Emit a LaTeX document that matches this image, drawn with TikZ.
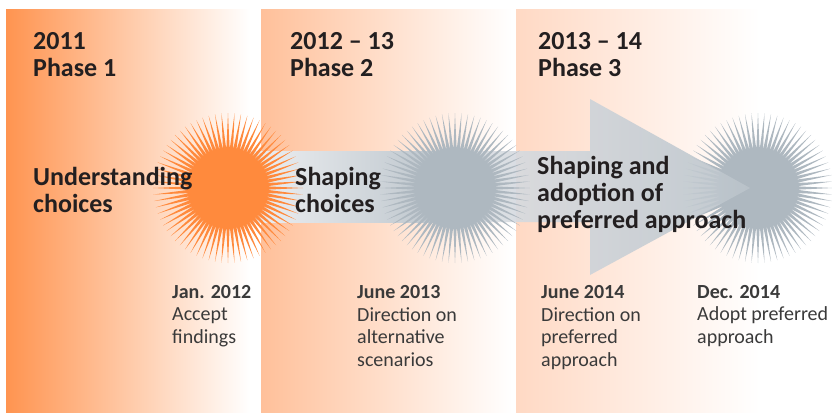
\documentclass[tikz,border=0pt]{standalone}
\usepackage{fontspec}
\setmainfont{Carlito}
\usetikzlibrary{shapes.geometric}
\definecolor{phaseone}{HTML}{FF9450}
\definecolor{phasetwo}{HTML}{FFC09A}
\definecolor{phasethree}{HTML}{FFD9C4}
\definecolor{sunorange}{HTML}{FF8A3D}
\definecolor{sungray}{HTML}{AEB8C0}
\definecolor{bandlight}{HTML}{F3F4F6}
\definecolor{banddark}{HTML}{BAC3CA}
\definecolor{arrowlight}{HTML}{DCE0E5}
\definecolor{arrowdark}{HTML}{BBC4CB}
\definecolor{headtext}{HTML}{231F20}
\definecolor{bodytext}{HTML}{3A3A3A}
\begin{document}
\begin{tikzpicture}[x=1pt,y=-1pt,
  sun/.style={star, star points=72, star point ratio=1.95, minimum size=150pt, inner sep=0pt},
  phase/.style={anchor=base west, align=left, inner sep=0pt, text=headtext, font=\fontsize{26}{27}\selectfont\bfseries},
  milestone/.style={anchor=base west, align=left, inner sep=0pt, text=bodytext, font=\fontsize{20}{22.5}\selectfont}]
 \fill[white] (0,0) rectangle (832,412);
 \useasboundingbox (0,0) rectangle (832,412);

 \shade[left color=phaseone, right color=white] (6,10) rectangle (250,412);
 \shade[left color=phasetwo, right color=white] (261,10) rectangle (512,412);
 \shade[left color=phasethree, right color=white] (516,10) rectangle (760,412);

 \node[sun, fill=sungray] (sun3) at (758,188) {};
 \shade[left color=bandlight, right color=banddark] (228,151) rectangle (455,222);
 \shade[left color=arrowlight, right color=arrowdark, opacity=0.9]
   (455,151) -- (590,151) -- (590,99) -- (750,188) -- (590,275) -- (590,222) -- (455,222) -- cycle;
 \node[sun, fill=sunorange] (sun1) at (228,188) {};
 \node[sun, fill=sungray] (sun2) at (455,188) {};

\node[phase] (head1) at (33,77) {2011\\Phase 1};
\node[phase] (head2) at (290,76) {2012 -- 13\\Phase 2};
\node[phase] (head3) at (538,76) {2013 -- 14\\Phase 3};

\node[phase] (step1) at (33,212) {Understanding\\choices};
\node[phase] (step2) at (295,212) {Shaping\\choices};
\node[phase] (step3) at (537,228) {Shaping and\\adoption of\\preferred approach};

\node[milestone] (jan12) at (172,343) {\textbf{Jan. 2012}\\Accept\\findings};
\node[milestone] (jun13) at (357,366) {\textbf{June 2013}\\Direction on\\alternative\\scenarios};
\node[milestone] (jun14) at (541,366) {\textbf{June 2014}\\Direction on\\preferred\\approach};
\node[milestone] (dec14) at (697,343) {\textbf{Dec. 2014}\\Adopt preferred\\approach};
\end{tikzpicture}
\end{document}
